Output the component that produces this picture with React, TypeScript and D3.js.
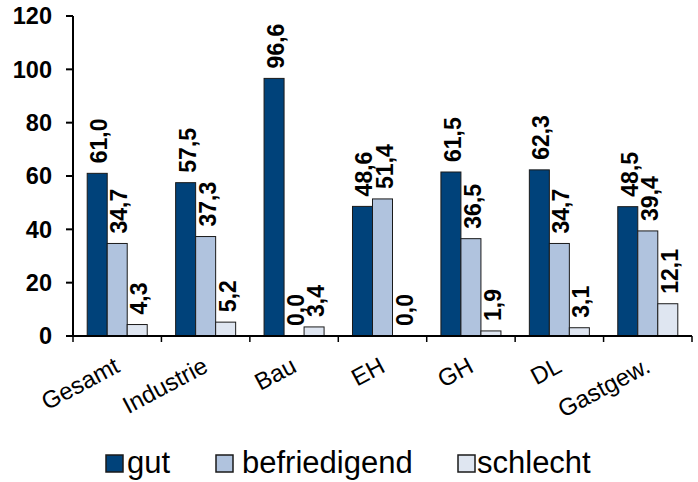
import React from "react";
import * as d3 from "d3";

// Categories (sectors) and the three rating series, in percent
const categories = ["Gesamt", "Industrie", "Bau", "EH", "GH", "DL", "Gastgew."];
const seriesNames = ["gut", "befriedigend", "schlecht"];
const gut = [61.0, 57.5, 96.6, 48.6, 61.5, 62.3, 48.5];
const befriedigend = [34.7, 37.3, 0.0, 51.4, 36.5, 34.7, 39.4];
const schlecht = [4.3, 5.2, 3.4, 0.0, 1.9, 3.1, 12.1];
const yTicks = [0, 20, 40, 60, 80, 100, 120];

const seriesValues = [gut, befriedigend, schlecht];
const colors = ["#00427a", "#b0c3de", "#dfe6f1"];

const W = 698;
const H = 482;
const plot = { left: 73, right: 692, top: 16, bottom: 336 };
const FONT = "'Liberation Sans', Arial, Helvetica, sans-serif";

const fmt = (v: number) => v.toFixed(1).replace(".", ",");

export default function App() {
  const x0 = d3.scaleBand<string>().domain(categories).range([plot.left, plot.right]).padding(0);
  const x1 = d3
    .scaleBand<string>()
    .domain(seriesNames)
    .range([0, x0.bandwidth()])
    .paddingInner(0)
    .paddingOuter(0.71);
  const y = d3.scaleLinear().domain([0, 120]).range([plot.bottom, plot.top]);

  const boundaries = categories.map((c) => x0(c) as number).concat([plot.right]);

  // legend layout
  const legendX = [106, 216, 458];
  const legendTextX = [127, 242, 477];

  return (
    <svg
      width={W}
      height={H}
      style={{ position: "absolute", left: 0, top: 0, background: "#fff" }}
      fontFamily={FONT}
    >
      {/* bars */}
      {categories.map((c, ci) =>
        seriesNames.map((s, si) => {
          const v = seriesValues[si][ci];
          const bx = (x0(c) as number) + (x1(s) as number);
          const bw = x1.bandwidth();
          return (
            <rect
              key={`${c}-${s}`}
              x={bx}
              y={y(v)}
              width={bw}
              height={y(0) - y(v)}
              fill={colors[si]}
              stroke="#1a1a1a"
              strokeWidth={1}
            />
          );
        })
      )}

      {/* value labels */}
      {categories.map((c, ci) =>
        seriesNames.map((s, si) => {
          const v = seriesValues[si][ci];
          const cx = (x0(c) as number) + (x1(s) as number) + x1.bandwidth() / 2;
          return (
            <text
              key={`lbl-${c}-${s}`}
              transform={`translate(${cx + 10},${y(v) - 10}) rotate(-90)`}
              fontSize={23}
              fontWeight="bold"
              fill="#000"
            >
              {fmt(v)}
            </text>
          );
        })
      )}

      {/* y axis */}
      <line x1={plot.left} x2={plot.left} y1={plot.top} y2={plot.bottom} stroke="#000" strokeWidth={2} />
      {yTicks.map((t) => (
        <g key={`yt-${t}`}>
          <line x1={plot.left - 7} x2={plot.left} y1={y(t)} y2={y(t)} stroke="#000" strokeWidth={2} />
          <text
            x={52}
            y={y(t)}
            dy="0.36em"
            textAnchor="end"
            fontSize={23.5}
            fontWeight="bold"
            fill="#000"
          >
            {t}
          </text>
        </g>
      ))}

      {/* x axis */}
      <line x1={plot.left} x2={plot.right} y1={plot.bottom} y2={plot.bottom} stroke="#000" strokeWidth={2} />
      {boundaries.map((bx, i) => (
        <line key={`xt-${i}`} x1={bx} x2={bx} y1={plot.bottom} y2={plot.bottom + 6} stroke="#000" strokeWidth={1.5} />
      ))}
      {categories.map((c) => {
        const cx = (x0(c) as number) + x0.bandwidth() / 2;
        return (
          <text
            key={`xl-${c}`}
            transform={`translate(${cx + 4},${371}) rotate(-28)`}
            textAnchor="end"
            fontSize={24}
            fill="#000"
          >
            {c}
          </text>
        );
      })}

      {/* legend */}
      {seriesNames.map((s, si) => (
        <g key={`lg-${s}`}>
          <rect x={legendX[si]} y={455} width={17} height={17} fill={colors[si]} stroke="#1a1a1a" strokeWidth={1.5} />
          <text x={legendTextX[si]} y={473} fontSize={31} fill="#000">
            {s}
          </text>
        </g>
      ))}
    </svg>
  );
}
